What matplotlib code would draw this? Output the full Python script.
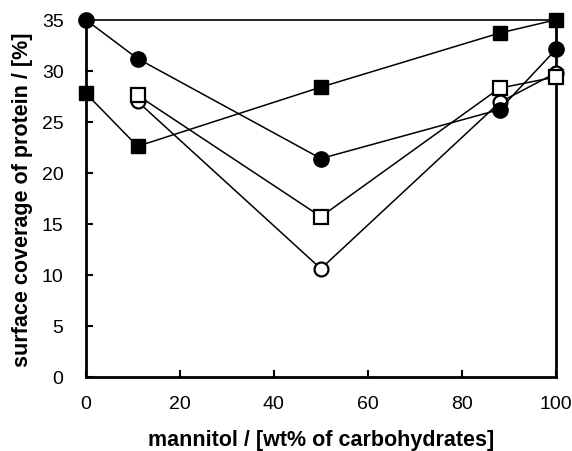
import matplotlib.pyplot as plt

plt.rcParams['font.family'] = ['Liberation Sans', 'DejaVu Sans']

# mannitol content (wt% of carbohydrates)
x_full = [0, 11, 50, 88, 100]
x_part = [11, 50, 88, 100]

# surface coverage of protein [%]
filled_square = [27.8, 22.6, 28.4, 33.7, 35.0]
filled_circle = [35.0, 31.2, 21.4, 26.2, 32.1]
open_square = [27.6, 15.7, 28.3, 29.4]
open_circle = [27.0, 10.6, 26.9, 29.8]

fig = plt.figure(figsize=(5.72, 4.52), dpi=100)
ax = fig.add_axes([0.150, 0.164, 0.822, 0.790])

ax.plot(x_part, open_circle, color='black', lw=1.1, marker='o', ms=10,
        mfc='white', mec='black', mew=1.6, clip_on=False, zorder=3)
ax.plot(x_part, open_square, color='black', lw=1.1, marker='s', ms=9.5,
        mfc='white', mec='black', mew=1.6, clip_on=False, zorder=4)
ax.plot(x_full, filled_square, color='black', lw=1.1, marker='s', ms=10.5,
        mfc='black', mec='black', clip_on=False, zorder=5)
ax.plot(x_full, filled_circle, color='black', lw=1.1, marker='o', ms=11,
        mfc='black', mec='black', clip_on=False, zorder=6)

ax.set_xlim(0, 100)
ax.set_ylim(0, 35)
ax.set_xticks([0, 20, 40, 60, 80, 100])
ax.set_yticks([0, 5, 10, 15, 20, 25, 30, 35])
ax.tick_params(direction='in', length=5, width=1.5, labelsize=14)
ax.tick_params(axis='x', pad=13)
ax.tick_params(axis='y', pad=16)

for side in ['left', 'bottom', 'right']:
    ax.spines[side].set_linewidth(2)
ax.spines['top'].set_linewidth(1.2)

ax.set_xlabel('mannitol / [wt% of carbohydrates]', fontsize=15.5,
              fontweight='bold', labelpad=12)
ax.set_ylabel('surface coverage of protein / [%]', fontsize=15.5,
              fontweight='bold', labelpad=6)

fig.savefig('out.png', dpi=100)
